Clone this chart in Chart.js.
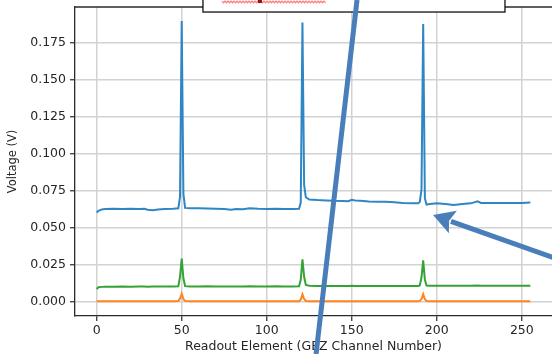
<!DOCTYPE html>
<html>
<head>
<meta charset="utf-8">
<script src="https://cdn.jsdelivr.net/npm/chart.js@4/dist/chart.umd.min.js"></script>
<style>
  html, body { margin: 0; padding: 0; background: #ffffff; }
  #wrap { position: relative; width: 552px; height: 354px; }
</style>
</head>
<body>
<div id="wrap"><canvas id="c" width="552" height="354"></canvas></div>
<script>
// ---- data ----
const channels = [0,1,3,5,10,15,20,25,28,30,33,36,40,45,48,49,50,51,52,55,60,65,70,75,79,82,86,90,95,100,105,110,115,119,120,121,122,123,125,130,135,140,145,148,150,152,155,160,165,170,175,180,185,189,190,191,192,193,194,196,200,205,210,215,220,224,226,230,235,240,245,250,255];

const blueV = [0.0605,0.0617,0.0626,0.0629,0.0630,0.0629,0.0631,0.0629,0.0630,0.0624,0.0621,0.0625,0.0628,0.0630,0.0633,0.0710,0.1900,0.0730,0.0636,0.0633,0.0634,0.0632,0.0630,0.0628,0.0623,0.0628,0.0627,0.0633,0.0630,0.0629,0.0630,0.0628,0.0629,0.0631,0.0670,0.1890,0.0790,0.0708,0.0693,0.0689,0.0687,0.0684,0.0683,0.0681,0.0691,0.0686,0.0685,0.0680,0.0678,0.0677,0.0674,0.0670,0.0668,0.0667,0.0676,0.0760,0.1880,0.0700,0.0659,0.0663,0.0668,0.0663,0.0656,0.0662,0.0667,0.0681,0.0670,0.0669,0.0670,0.0669,0.0670,0.0670,0.0672];

const greenV = [0.0088,0.0099,0.0102,0.0103,0.0103,0.0104,0.0103,0.0104,0.0104,0.0103,0.0104,0.0104,0.0105,0.0104,0.0106,0.0170,0.0293,0.0160,0.0107,0.0105,0.0105,0.0106,0.0105,0.0105,0.0104,0.0105,0.0105,0.0106,0.0105,0.0105,0.0106,0.0105,0.0105,0.0106,0.0150,0.0288,0.0170,0.0115,0.0109,0.0108,0.0108,0.0108,0.0108,0.0108,0.0109,0.0108,0.0108,0.0108,0.0108,0.0108,0.0108,0.0108,0.0108,0.0108,0.0112,0.0165,0.0281,0.0150,0.0111,0.0109,0.0109,0.0109,0.0109,0.0109,0.0110,0.0111,0.0110,0.0110,0.0110,0.0110,0.0110,0.0110,0.0110];

const orangeV = [0.0004,0.0005,0.0005,0.0005,0.0005,0.0005,0.0005,0.0005,0.0005,0.0005,0.0005,0.0005,0.0005,0.0005,0.0006,0.0022,0.0056,0.0020,0.0006,0.0005,0.0005,0.0005,0.0005,0.0005,0.0005,0.0005,0.0005,0.0005,0.0005,0.0005,0.0005,0.0005,0.0005,0.0005,0.0016,0.0052,0.0020,0.0007,0.0005,0.0005,0.0005,0.0005,0.0005,0.0005,0.0005,0.0005,0.0005,0.0005,0.0005,0.0005,0.0005,0.0005,0.0005,0.0005,0.0007,0.0020,0.0053,0.0018,0.0006,0.0005,0.0005,0.0005,0.0005,0.0005,0.0005,0.0005,0.0005,0.0005,0.0005,0.0005,0.0005,0.0005,0.0005];

const xTickValues = [0, 50, 100, 150, 200, 250];
const yTickValues = [0, 0.025, 0.05, 0.075, 0.1, 0.125, 0.15, 0.175];
const xTitle = 'Readout Element (GEZ Channel Number)';
const yTitle = 'Voltage (V)';

// ---- overlay annotations (in data units, drawn through the scales) ----
const slashLine = [[153.1, 0.2043], [129.0, -0.0352]];
const arrowLine = [[296.0, 0.0189], [197.8, 0.0588]];
const noteBox = [[62.5, 0.2080], [240.1, 0.1961]];
const squiggle = [[73.7, 0.2029], [135.4, 0.2029]];

const toPts = (ys) => channels.map((x, i) => ({ x: x, y: ys[i] }));

const TXT = '#262626';
const FONT = 'DejaVu Sans';

const framePlugin = {
  id: 'frame',
  afterDatasetsDraw(chart) {
    const { ctx, chartArea: a } = chart;
    ctx.save();
    ctx.strokeStyle = '#2a2a2a';
    ctx.lineWidth = 1.3;
    ctx.beginPath();
    ctx.moveTo(a.left, a.top);
    ctx.lineTo(a.right, a.top);
    ctx.stroke();
    ctx.restore();
  }
};

const overlayPlugin = {
  id: 'overlay',
  afterDraw(chart) {
    const { ctx } = chart;
    const xs = chart.scales.x, ys = chart.scales.y;
    const P = (p) => [xs.getPixelForValue(p[0]), ys.getPixelForValue(p[1])];
    ctx.save();
    // note box
    const b0 = P(noteBox[0]), b1 = P(noteBox[1]);
    ctx.fillStyle = '#ffffff';
    ctx.fillRect(b0[0], b0[1], b1[0] - b0[0], b1[1] - b0[1]);
    ctx.strokeStyle = '#111111';
    ctx.lineWidth = 1.3;
    ctx.strokeRect(b0[0], b0[1], b1[0] - b0[0], b1[1] - b0[1]);
    // red squiggle
    const s0 = P(squiggle[0]), s1 = P(squiggle[1]);
    ctx.strokeStyle = '#ff7a7a';
    ctx.lineWidth = 1.2;
    ctx.beginPath();
    let k = 0;
    for (let x = s0[0]; x <= s1[0]; x += 1.5) {
      const y = s0[1] + (k % 2 === 0 ? -0.8 : 0.8);
      if (k === 0) ctx.moveTo(x, y); else ctx.lineTo(x, y);
      k++;
    }
    ctx.stroke();
    const mk = P([96.0, 0.2036]);
    ctx.fillStyle = '#9a1010';
    ctx.fillRect(mk[0] - 2, mk[1] - 1, 4, 3);
    // slanted line
    const l0 = P(slashLine[0]), l1 = P(slashLine[1]);
    ctx.strokeStyle = '#4a7ebb';
    ctx.lineWidth = 5;
    ctx.lineCap = 'butt';
    ctx.beginPath();
    ctx.moveTo(l0[0], l0[1]);
    ctx.lineTo(l1[0], l1[1]);
    ctx.stroke();
    // arrow
    const a0 = P(arrowLine[0]), a1 = P(arrowLine[1]);
    const dx = a0[0] - a1[0], dy = a0[1] - a1[1];
    const len = Math.hypot(dx, dy);
    const ux = dx / len, uy = dy / len;
    const headLen = 21, headHalf = 12;
    const bx = a1[0] + ux * headLen, by = a1[1] + uy * headLen;
    ctx.beginPath();
    ctx.moveTo(a0[0], a0[1]);
    ctx.lineTo(bx - ux * 2, by - uy * 2);
    ctx.stroke();
    ctx.fillStyle = '#4a7ebb';
    ctx.beginPath();
    ctx.moveTo(a1[0], a1[1]);
    ctx.lineTo(bx - uy * headHalf, by + ux * headHalf);
    ctx.lineTo(bx - ux * 4, by - uy * 4);
    ctx.lineTo(bx + uy * headHalf, by - ux * headHalf);
    ctx.closePath();
    ctx.fill();
    ctx.restore();
  }
};

new Chart(document.getElementById('c'), {
  type: 'line',
  data: {
    datasets: [
      { data: toPts(blueV), borderColor: '#2f86c4', borderWidth: 2 },
      { data: toPts(orangeV), borderColor: '#ff8420', borderWidth: 2 },
      { data: toPts(greenV), borderColor: '#34a334', borderWidth: 2 }
    ]
  },
  options: {
    responsive: false,
    animation: false,
    devicePixelRatio: 1,
    layout: { padding: { top: 7, right: 0, left: 0, bottom: 0 } },
    elements: { point: { radius: 0 }, line: { tension: 0 } },
    plugins: { legend: { display: false }, tooltip: { enabled: false } },
    scales: {
      x: {
        type: 'linear',
        min: -12.75,
        max: 267.75,
        afterBuildTicks: (s) => { s.ticks = xTickValues.map(v => ({ value: v })); },
        afterFit: (s) => { s.height = 38; s.paddingLeft = 0; s.paddingRight = 0; },
        ticks: { autoSkip: false, maxRotation: 0, padding: 2, color: TXT, font: { family: FONT, size: 12.5 }, callback: (v) => String(v) },
        grid: { color: '#d2d2d2', lineWidth: 1.5, tickLength: 5, tickColor: '#2a2a2a', tickWidth: 1.2 },
        border: { display: true, color: '#2a2a2a', width: 1.3 },
        title: { display: true, text: xTitle, color: TXT, font: { family: FONT, size: 12.5 }, padding: { top: 1, bottom: 0 } }
      },
      y: {
        type: 'linear',
        min: -0.0095,
        max: 0.1995,
        afterBuildTicks: (s) => { s.ticks = yTickValues.map(v => ({ value: v })); },
        afterFit: (s) => { s.width = 75; s.paddingTop = 0; s.paddingBottom = 0; },
        ticks: { autoSkip: false, padding: 4, color: TXT, font: { family: FONT, size: 12.5 }, callback: (v) => Number(v).toFixed(3) },
        grid: { color: '#d2d2d2', lineWidth: 1.5, tickLength: 5, tickColor: '#2a2a2a', tickWidth: 1.2 },
        border: { display: true, color: '#2a2a2a', width: 1.3 },
        title: { display: true, text: yTitle, color: TXT, font: { family: FONT, size: 11.5 }, padding: { top: 6, bottom: 0 } }
      }
    }
  },
  plugins: [framePlugin, overlayPlugin]
});
</script>
</body>
</html>
